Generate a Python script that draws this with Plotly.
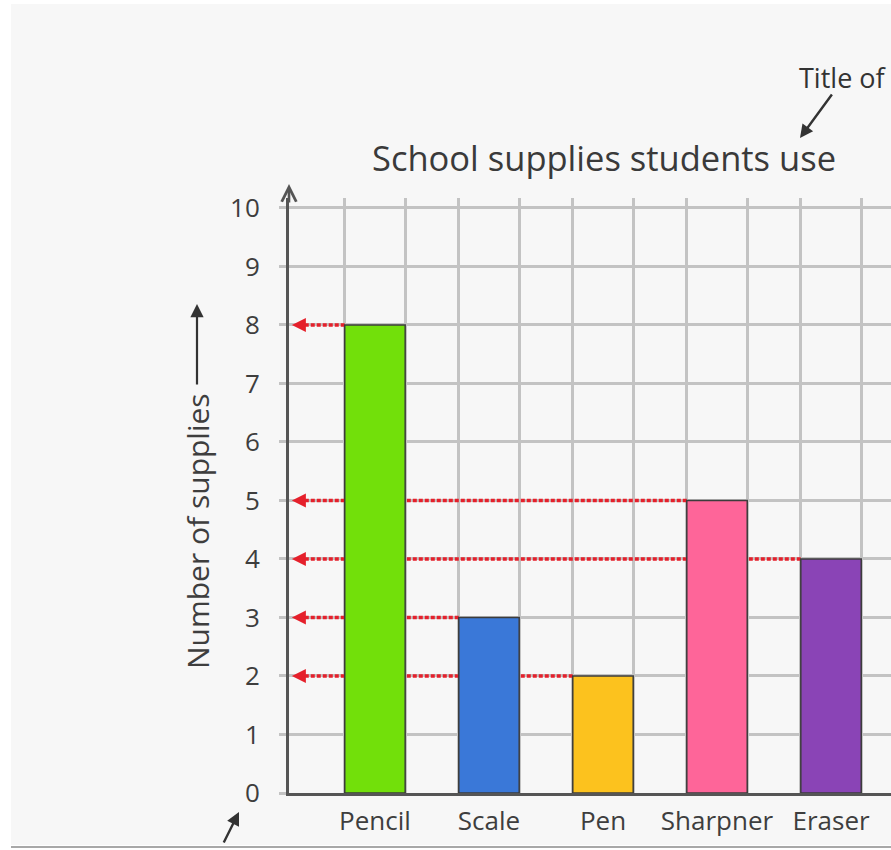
import plotly.graph_objects as go

# ---- data ----
categories = ["Pencil", "Scale", "Pen", "Sharpner", "Eraser"]
values = [8, 3, 2, 5, 4]
y_ticks = [0, 1, 2, 3, 4, 5, 6, 7, 8, 9, 10]
title_text = "School supplies students use"
y_title = "Number of supplies"
note_text = "Title of"

# ---- style ----
bar_colors = ["#72e00a", "#3a78d8", "#fcc21e", "#fe6599", "#8a44b6"]
W, H = 891, 850
ML, MR, MT, MB = 289, 0, 198, 57
BAR_W = 0.53
X_RANGE = [-0.754, 4.526]
Y_RANGE = [0, 10.17]
GRID = "#c3c3c3"
AXIS = "#555555"
TXT = "#3e3e3e"
RED = "#e5202b"
FONT = "Open Sans"

pw = W - ML - MR
ph = H - MT - MB


def fx(px):
    return (px - ML) / pw


def fy(py):
    return (H - MB - py) / ph


xs = list(range(len(categories)))
edges = []
for i in xs:
    edges += [i - BAR_W / 2, i + BAR_W / 2]

fig = go.Figure()
fig.add_trace(go.Bar(
    x=xs, y=values, width=BAR_W,
    marker=dict(color=bar_colors, line=dict(color="#3c3c3c", width=1.5)),
    hoverinfo="skip",
))

shapes = [
    # grey panel background
    dict(type="rect", xref="paper", yref="paper", x0=fx(11), x1=fx(W + 5),
         y0=fy(845), y1=fy(4), fillcolor="#f7f7f7", line=dict(width=0), layer="below"),
    dict(type="line", xref="paper", yref="paper", x0=fx(11), x1=fx(W + 5),
         y0=fy(847), y1=fy(847), line=dict(color="#a8a8a8", width=2), layer="below"),
]
annotations = []

# dotted red guide lines from each bar to the y axis
for i, v in zip(xs, values):
    shapes.append(dict(type="line", xref="x", yref="y", x0=i - BAR_W / 2, x1=X_RANGE[0] + 0.1,
                       y0=v, y1=v, line=dict(color=RED, width=3.5, dash="4px,2px"), layer="between"))
    annotations.append(dict(x=X_RANGE[0] + 0.025, y=v, xref="x", yref="y", text="",
                            showarrow=True, ax=X_RANGE[0] + 0.14, ay=v, axref="x", ayref="y",
                            arrowhead=2, arrowsize=1.4, arrowwidth=2, arrowcolor=RED))

# y axis arrow tip
annotations.append(dict(x=0, y=fy(184), xref="paper", yref="paper", text="", showarrow=True,
                        ax=0, ay=20, arrowhead=5, arrowsize=1.1, arrowwidth=2.6, arrowcolor=AXIS))
# title
annotations.append(dict(x=fx(604), y=fy(157), xref="paper", yref="paper", text=title_text,
                        showarrow=False, font=dict(family=FONT, size=34.5, color="#3a3a3a"),
                        xanchor="center", yanchor="middle"))
# y axis title and its arrow
annotations.append(dict(x=fx(197), y=fy(531), xref="paper", yref="paper", text=y_title,
                        showarrow=False, textangle=-90, font=dict(family=FONT, size=30, color=TXT),
                        xanchor="center", yanchor="middle"))
annotations.append(dict(x=fx(197), y=fy(304), xref="paper", yref="paper", text="", showarrow=True,
                        ax=0, ay=82, arrowhead=2, arrowsize=1.2, arrowwidth=2.2, arrowcolor="#333"))
# "Title of" callout
annotations.append(dict(x=fx(797), y=fy(77), xref="paper", yref="paper", text=note_text,
                        showarrow=False, font=dict(family=FONT, size=27, color="#333"),
                        xanchor="left", yanchor="middle"))
annotations.append(dict(x=fx(800), y=fy(138), xref="paper", yref="paper", text="", showarrow=True,
                        ax=33, ay=-45, arrowhead=2, arrowsize=1.1, arrowwidth=2.4, arrowcolor="#333"))
# bottom-left pointer
annotations.append(dict(x=fx(239), y=fy(812), xref="paper", yref="paper", text="", showarrow=True,
                        ax=-16, ay=32, arrowhead=2, arrowsize=1.1, arrowwidth=2.4, arrowcolor="#333"))

fig.update_layout(
    width=W, height=H,
    margin=dict(l=ML, r=MR, t=MT, b=MB, pad=0),
    paper_bgcolor="white",
    plot_bgcolor="rgba(0,0,0,0)",
    showlegend=False,
    shapes=shapes,
    annotations=annotations,
    xaxis=dict(
        range=X_RANGE, tickmode="array", tickvals=xs, ticktext=categories,
        showgrid=False, zeroline=False, ticks="",
        showline=True, linecolor=AXIS, linewidth=3,
        tickfont=dict(family=FONT, size=26, color=TXT),
        ticklabelstandoff=3,
        minor=dict(tickmode="array", tickvals=edges, showgrid=True,
                   gridcolor=GRID, gridwidth=3, ticks=""),
        fixedrange=True,
    ),
    yaxis=dict(
        range=Y_RANGE, tickmode="array", tickvals=y_ticks,
        showgrid=True, gridcolor=GRID, gridwidth=3, zeroline=False,
        showline=True, linecolor=AXIS, linewidth=3,
        ticks="outside", ticklen=7, tickwidth=3, tickcolor=GRID,
        ticklabelstandoff=14,
        tickfont=dict(family=FONT, size=26, color=TXT),
        fixedrange=True,
    ),
)

fig.write_html(
    "out.html",
    config={"displayModeBar": False},
    post_script="document.body.style.margin='0';document.body.style.overflow='hidden';",
)
